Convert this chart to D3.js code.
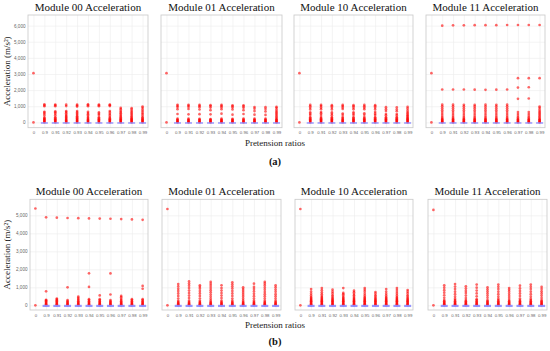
<!DOCTYPE html>
<html><head><meta charset="utf-8">
<script src="https://cdn.jsdelivr.net/npm/d3@7"></script>
<style>
html,body{margin:0;padding:0;background:#fff;}
svg{display:block;}
</style></head>
<body>
<svg id="c" width="550" height="351"></svg>
<script>
const categories = ["0","0.9","0.91","0.92","0.93","0.94","0.95","0.96","0.97","0.98","0.99"];
const yTicksA = [0,1000,2000,3000,4000,5000,6000];
const yTicksB = [0,1000,2000,3000,4000,5000];
const titles = ["Module 00 Acceleration","Module 01 Acceleration","Module 10 Acceleration","Module 11 Acceleration"];
const xLabel = "Pretension ratios";
const yLabel = "Acceleration (m/s²)";
const captions = ["(a)","(b)"];
// blue series: value at each category (null = none)
const blueValues = [null,0,0,0,0,0,0,0,0,0,0];

// (a) red series, one list per category
const a00 = [
 [0,3050],
 [0,40,80,120,160,200,250,300,420,520,600,660,1000,1060,1120],
 [0,40,80,120,160,200,260,320,440,540,620,680,1000,1060,1110],
 [0,40,80,120,170,220,280,340,400,470,560,640,700,1010,1100],
 [0,40,80,120,160,210,260,320,380,460,540,620,700,980,1040,1100],
 [0,40,80,120,160,210,270,330,420,500,580,660,1000,1070,1120],
 [0,40,80,120,160,200,260,320,460,540,620,1000,1060,1110],
 [0,40,80,120,160,200,260,330,430,520,620,700,1010,1070,1110],
 [0,40,80,120,160,200,260,320,400,480,560,640,720,820,900],
 [0,40,80,120,160,200,250,310,380,460,540,620,700,800,880],
 [0,40,80,120,160,200,260,320,420,520,600,700,800,900,980]
];
const a01 = [
 [0,3050],
 [0,30,60,100,140,180,230,520,820,950,1020,1090],
 [0,30,60,100,140,180,230,500,830,960,1030,1090],
 [0,30,60,100,140,180,220,510,800,940,1020,1080],
 [0,30,60,100,140,170,210,500,760,920,1010,1070],
 [0,30,60,100,140,180,230,540,820,940,1020,1080],
 [0,30,60,100,140,180,220,480,800,920,1000,1060],
 [0,30,60,100,140,180,240,520,760,900,990,1060],
 [0,30,60,100,140,180,230,480,700,850,950],
 [0,30,60,100,140,180,230,460,680,830,940],
 [0,30,60,100,140,180,230,300,380,460,540,620,700,800,900,960]
];
const a10 = [
 [0,3050],
 [0,40,80,120,160,200,260,320,450,540,620,800,900,1000,1080],
 [0,40,80,120,160,200,260,330,460,560,640,820,920,1010,1080],
 [0,40,80,120,160,200,260,320,440,530,620,800,900,1000,1070],
 [0,40,80,120,160,210,270,330,460,550,830,930,1010,1080],
 [0,40,80,120,160,200,260,320,450,540,620,810,910,1000,1070],
 [0,40,80,120,160,200,260,330,470,560,820,920,1000,1080],
 [0,40,80,120,160,200,260,320,450,540,640,800,900,1000,1070],
 [0,40,80,120,160,200,260,320,440,520,700,820,940],
 [0,40,80,120,160,200,260,320,430,520,690,800,930],
 [0,40,80,120,160,200,250,300,360,420,480,560,640,740,860,960]
];
const a11 = [
 [0,3050],
 [0,30,60,100,140,180,230,290,400,520,640,760,880,1000,1100,2040,6000],
 [0,30,60,100,140,180,230,290,400,520,640,760,880,1000,1100,2040,6020],
 [0,30,60,100,140,180,230,290,400,520,640,760,880,1000,1090,2040,6020],
 [0,30,60,100,140,180,230,290,400,520,640,760,880,990,1080,2030,6030],
 [0,30,60,100,140,180,230,290,400,520,640,760,880,1000,1100,2020,6030],
 [0,30,60,100,140,180,230,290,400,520,640,760,880,1000,1090,2030,6030],
 [0,30,60,100,140,180,230,290,400,520,640,760,880,1000,1100,2040,6040],
 [0,30,60,100,140,180,230,300,400,520,640,1460,2160,2740,6040],
 [0,30,60,100,140,180,230,300,400,520,640,1480,2180,2740,6040],
 [0,30,60,100,140,180,230,300,380,460,540,620,700,800,900,980,2740,6040]
];
// (b) red series
const b00 = [
 [0,5380],
 [0,30,60,100,140,180,230,280,310,780,4890],
 [0,30,60,100,140,180,230,280,330,380,4870],
 [0,30,60,100,140,180,230,290,1000,4850],
 [0,30,60,100,140,180,230,290,350,420,480,4840],
 [0,30,60,100,140,180,230,290,340,1020,1780,4830],
 [0,30,60,100,140,180,230,290,340,550,4820],
 [0,30,60,100,140,180,230,290,600,1770,4810],
 [0,30,60,100,140,180,230,290,360,450,520,4790],
 [0,30,60,100,140,180,230,290,340,4770],
 [0,30,60,100,140,180,230,290,340,920,1080,4750]
];
const b01 = [
 [0,5350],
 [0,30,60,100,140,190,250,380,520,660,800,920,1050,1180],
 [0,30,60,100,140,190,260,400,540,680,820,960,1090,1210,1330],
 [0,30,60,100,140,190,250,380,520,660,790,920,1020,1110],
 [0,30,60,100,140,190,260,360,480,600,720,840,960,1080,1190,1300],
 [0,30,60,100,140,190,260,400,540,680,820,960,1110],
 [0,30,60,100,140,190,260,380,520,660,800,940,1060,1170,1280],
 [0,30,60,100,140,190,260,360,470,580,690,800,900,1000],
 [0,30,60,100,140,190,260,380,510,640,770,900,1020,1200],
 [0,30,60,100,140,190,260,380,500,620,740,860,980,1100,1200,1300],
 [0,30,60,100,140,190,260,380,500,620,760,880,1000,1110]
];
const b10 = [
 [0,5350],
 [0,30,60,100,140,180,220,260,300,350,400,460,540,640,760,900],
 [0,30,60,100,140,180,220,260,300,350,400,460,530,620,720,840,960],
 [0,30,60,100,140,180,220,260,300,350,410,480,560,660,760,870],
 [0,30,60,100,140,180,220,260,300,350,400,460,540,620,690,960],
 [0,30,60,100,140,180,220,260,300,350,410,480,560,640,730,815],
 [0,30,60,100,140,180,220,260,300,350,400,460,540,640,760,860,960],
 [0,30,60,100,140,180,220,260,300,350,410,480,560,650,740],
 [0,30,60,100,140,180,220,260,300,350,400,460,540,640,760,900],
 [0,30,60,100,140,180,220,260,300,350,400,460,540,640,740,850,960],
 [0,30,60,100,140,180,220,260,300,350,410,480,560,660,760,850]
];
const b11 = [
 [0,5300],
 [0,30,60,100,140,180,230,290,420,560,700,840,980,1110],
 [0,30,60,100,140,180,230,290,360,480,620,760,900,1040,1185],
 [0,30,60,100,140,180,230,290,400,540,680,800,930,1055],
 [0,30,60,100,140,180,230,290,340,500,660,820,980,1150],
 [0,30,60,100,140,180,230,290,420,540,660,780,890,1000],
 [0,30,60,100,140,180,230,290,360,480,620,760,900,1030,1150],
 [0,30,60,100,140,180,230,290,400,520,640,760,860,960],
 [0,30,60,100,140,180,230,290,380,520,660,800,940,1090],
 [0,30,60,100,140,180,230,290,360,480,620,760,900,1030,1150],
 [0,30,60,100,140,180,230,290,410,540,660,780,900,1020]
];

const svg = d3.select("#c");
svg.append("rect").attr("width",550).attr("height",351).attr("fill","#fff");

const rows = [
  {data:[a00,a01,a10,a11], ticks:yTicksA, yDom:[-330,6660], top:15, bottom:127.7,
   lefts:[28,161,294,426], rights:[148,282,413,545], titleY:11, tickY:134, xLabY:146, capY:165, bh:1.5},
  {data:[b00,b01,b10,b11], ticks:yTicksB, yDom:[-260,5890], top:199.3, bottom:310,
   lefts:[30,162,295,428], rights:[148,281,413,547], titleY:194.5, tickY:317.5, xLabY:327.5, capY:345, bh:2.2}
];
const serif = "Liberation Serif, DejaVu Serif, serif";
const sans = "Liberation Sans, Arial, sans-serif";

rows.forEach((row, ri) => {
  const y = d3.scaleLinear().domain(row.yDom).range([row.bottom, row.top]);
  row.data.forEach((panelData, pi) => {
    const L = row.lefts[pi], R = row.rights[pi];
    const x = d3.scalePoint().domain(categories).range([L, R]).padding(0.5);
    const g = svg.append("g");
    // grid
    g.append("g").attr("transform",`translate(0,${row.bottom})`)
      .call(d3.axisBottom(x).tickSize(-(row.bottom-row.top)).tickFormat(""))
      .call(s => { s.select(".domain").remove(); s.selectAll("line").attr("stroke","#ececec").attr("stroke-width",0.6); });
    g.append("g").attr("transform",`translate(${L},0)`)
      .call(d3.axisLeft(y).tickValues(row.ticks).tickSize(-(R-L)).tickFormat(""))
      .call(s => { s.select(".domain").remove(); s.selectAll("line").attr("stroke","#ececec").attr("stroke-width",0.6); });
    // frame
    g.append("rect").attr("x",L).attr("y",row.top).attr("width",R-L).attr("height",row.bottom-row.top)
      .attr("fill","none").attr("stroke","#c8c8c8").attr("stroke-width",0.8);
    // x tick labels
    g.append("g").attr("transform",`translate(0,${row.tickY-3.5})`)
      .call(d3.axisBottom(x).tickSize(0).tickPadding(0))
      .call(s => { s.select(".domain").remove();
        s.selectAll("text").attr("font-size","4.3px").attr("fill","#666").attr("font-family",sans).attr("dy","0.71em"); });
    // y tick labels only on first panel
    if (pi === 0) {
      g.append("g").attr("transform",`translate(${L-2.5},0)`)
        .call(d3.axisLeft(y).tickValues(row.ticks).tickSize(0).tickPadding(0))
        .call(s => { s.select(".domain").remove();
          s.selectAll("text").attr("font-size","4.6px").attr("fill","#666").attr("font-family",sans); });
      svg.append("text").attr("transform",`translate(10,${(row.top+row.bottom)/2}) rotate(-90)`)
        .attr("text-anchor","middle").attr("font-family",serif).attr("font-size","9px").attr("fill","#222")
        .text(yLabel);
    }
    // red points
    const pts = [];
    panelData.forEach((vals, ci) => vals.forEach(v => pts.push([categories[ci], v])));
    g.append("g").selectAll("circle").data(pts).join("circle")
      .attr("cx", d => x(d[0])).attr("cy", d => y(d[1])).attr("r",1.35)
      .attr("fill","#ff0000").attr("fill-opacity",0.6);
    // blue markers (drawn over the red points at zero)
    const blues = categories.map((c, ci) => [c, blueValues[ci]]).filter(d => d[1] !== null);
    g.append("g").selectAll("rect").data(blues).join("rect")
      .attr("x", d => x(d[0]) - 3.5).attr("y", d => y(d[1]) - row.bh/2 + 0.6)
      .attr("width",7).attr("height",row.bh)
      .attr("fill","#8a8aff").attr("opacity",0.9);
    // title
    svg.append("text").attr("x",(L+R)/2).attr("y",row.titleY).attr("text-anchor","middle")
      .attr("font-family",serif).attr("font-size","11px").attr("fill","#111").text(titles[pi]);
  });
  svg.append("text").attr("x",275).attr("y",row.xLabY).attr("text-anchor","middle")
    .attr("font-family",serif).attr("font-size","9px").attr("fill","#222").text(xLabel);
  svg.append("text").attr("x",275).attr("y",row.capY).attr("text-anchor","middle")
    .attr("font-family",serif).attr("font-size","10.5px").attr("font-weight","bold").attr("fill","#111").text(captions[ri]);
});
</script>
</body></html>
